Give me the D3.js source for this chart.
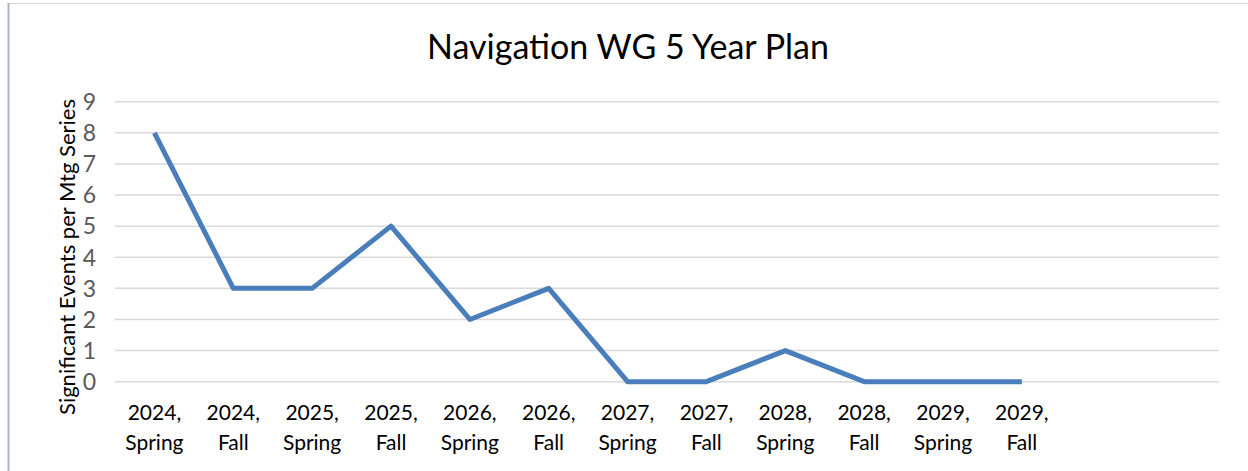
<!DOCTYPE html>
<html>
<head>
<meta charset="utf-8">
<script src="https://cdn.jsdelivr.net/npm/d3@7/dist/d3.min.js"></script>
<style>
  body { margin: 0; background: #fff; }
  svg { display: block; font-family: Lato, "Open Sans", sans-serif; }
</style>
</head>
<body>
<div id="chart"></div>
<script>
// categories: the sheet has two empty rows after 2029, Fall
const years = ["2024", "2024", "2025", "2025", "2026", "2026", "2027", "2027", "2028", "2028", "2029", "2029", "", ""];
const terms = ["Spring", "Fall", "Spring", "Fall", "Spring", "Fall", "Spring", "Fall", "Spring", "Fall", "Spring", "Fall", "", ""];
const events = [8, 3, 3, 5, 2, 3, 0, 0, 1, 0, 0, 0, null, null];
const yTicks = [0, 1, 2, 3, 4, 5, 6, 7, 8, 9];

const width = 1248;
const height = 471;
const margin = { top: 101.7, right: 29, bottom: 89.3, left: 115 };

const svg = d3.select("#chart")
  .append("svg")
  .attr("width", width)
  .attr("height", height);

// chart frame
svg.append("rect")
  .attr("x", 8.5)
  .attr("y", 3.5)
  .attr("width", width)
  .attr("height", height)
  .attr("fill", "none")
  .attr("stroke", "#d9d9d9");
svg.append("line")
  .attr("x1", 8.5).attr("x2", 8.5)
  .attr("y1", 3).attr("y2", height)
  .attr("stroke", "#a9b4c6")
  .attr("stroke-width", 2);

const slots = d3.range(years.length);

const x = d3.scaleBand()
  .domain(slots)
  .range([margin.left, width - margin.right]);

const y = d3.scaleLinear()
  .domain([0, 9])
  .range([height - margin.bottom, margin.top]);

// gridlines
svg.append("g")
  .selectAll("line")
  .data(yTicks)
  .join("line")
  .attr("x1", margin.left)
  .attr("x2", width - margin.right)
  .attr("y1", d => y(d))
  .attr("y2", d => y(d))
  .attr("stroke", "#d9d9d9")
  .attr("stroke-width", 1.5);

// y tick labels
svg.append("g")
  .selectAll("text")
  .data(yTicks)
  .join("text")
  .attr("x", 96)
  .attr("y", d => y(d))
  .attr("dy", "0.36em")
  .attr("text-anchor", "end")
  .attr("fill", "#595959")
  .style("font-size", "23px")
  .text(d => d);

// x tick labels, two lines each
const xLabels = svg.append("g")
  .selectAll("text")
  .data(slots.filter(i => years[i] !== ""))
  .join("text")
  .attr("text-anchor", "middle")
  .attr("fill", "#000")
  .style("font-size", "21px");

xLabels.append("tspan")
  .attr("x", i => x(i) + x.bandwidth() / 2)
  .attr("y", 420)
  .text(i => years[i] + ",");

xLabels.append("tspan")
  .attr("x", i => x(i) + x.bandwidth() / 2)
  .attr("y", 450)
  .text(i => terms[i]);

// y axis title
svg.append("text")
  .attr("transform", `translate(75, ${(96 + 418) / 2}) rotate(-90)`)
  .attr("text-anchor", "middle")
  .attr("fill", "#000")
  .style("font-size", "22px")
  .text("Significant Events per Mtg Series");

// chart title
svg.append("text")
  .attr("x", 628)
  .attr("y", 59)
  .attr("text-anchor", "middle")
  .attr("fill", "#000")
  .style("font-size", "34px")
  .text("Navigation WG 5 Year Plan");

// series line
const line = d3.line()
  .defined(d => d != null)
  .x((d, i) => x(i) + x.bandwidth() / 2)
  .y(d => y(d));

svg.append("path")
  .datum(events)
  .attr("d", line)
  .attr("fill", "none")
  .attr("stroke", "#4a7ebb")
  .attr("stroke-width", 5)
  .attr("stroke-linejoin", "round");
</script>
</body>
</html>
